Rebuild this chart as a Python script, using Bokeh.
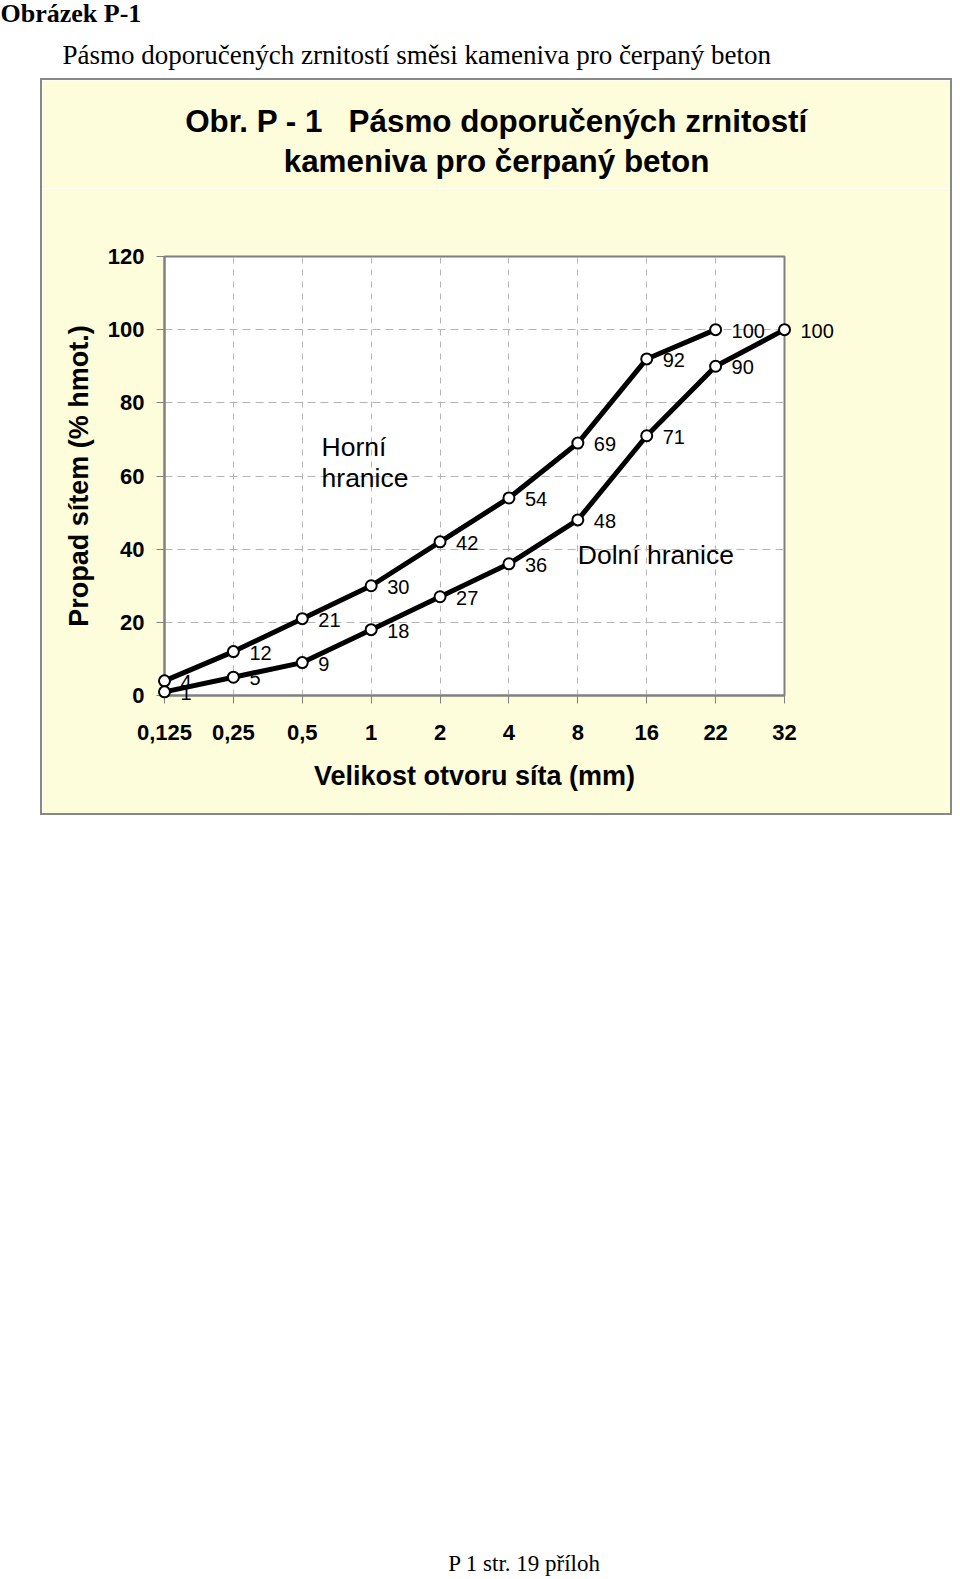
from bokeh.plotting import figure
from bokeh.layouts import column, row
from bokeh.models import Range1d, FixedTicker, Spacer
from bokeh.core.properties import value
from bokeh.embed import file_html
from bokeh.resources import INLINE

# ---------------- data ----------------
sieve_sizes = ["0,125", "0,25", "0,5", "1", "2", "4", "8", "16", "22", "32"]
upper_limit = [4, 12, 21, 30, 42, 54, 69, 92, 100]        # Horní hranice (to 22 mm)
lower_limit = [1, 5, 9, 18, 27, 36, 48, 71, 90, 100]      # Dolní hranice (to 32 mm)
y_ticks = [0, 20, 40, 60, 80, 100, 120]

x_upper = list(range(len(upper_limit)))
x_lower = list(range(len(lower_limit)))

page_heading = "Obrázek P-1"
page_caption = "Pásmo doporučených zrnitostí směsi kameniva pro čerpaný beton"
chart_title_1 = "Obr. P - 1\u00a0\u00a0\u00a0Pásmo doporučených zrnitostí"
chart_title_2 = "kameniva pro čerpaný beton"
x_label = "Velikost otvoru síta (mm)"
y_label = "Propad sítem (% hmot.)"
footer_text = "P 1 str. 19 příloh"

SANS = "Liberation Sans"
SERIF = "Liberation Serif"
YELLOW = "#FDFDDB"
GRAY = "#808080"
BOX = "#888888"
GRID = "#B4B4B4"


def no_align(f):
    if "frame_align" in f.properties():
        f.frame_align = False
    return f


def blank(w, h, fill):
    f = figure(width=w, height=h, x_range=Range1d(0, w), y_range=Range1d(h, 0),
               toolbar_location=None, output_backend="svg", min_border=0,
               x_axis_location=None, y_axis_location=None)
    f.grid.visible = False
    f.outline_line_color = None
    f.background_fill_color = fill
    f.border_fill_color = fill
    return no_align(f)


# ---------------- header ----------------
hdr = blank(952, 78, "white")
hdr.text(x=[0], y=[12.5], text=[page_heading], text_font=value(SERIF), text_font_size="26px",
         text_font_style="bold", text_color="black", text_baseline="middle")
hdr.text(x=[62], y=[54], text=[page_caption], text_font=value(SERIF), text_font_size="27px",
         text_color="black", text_baseline="middle")

# ---------------- chart title (inside the yellow box) ----------------
ttl = blank(908, 108, YELLOW)
ttl.text(x=[454, 454], y=[41, 81], text=[chart_title_1, chart_title_2], text_font=value(SANS),
         text_font_size="31.4px", text_font_style="bold", text_color="black",
         text_align="center", text_baseline="middle")

# ---------------- chart ----------------
n = len(sieve_sizes)
p = figure(width=908, height=625, x_range=Range1d(0, n - 1), y_range=Range1d(0, 120),
           toolbar_location=None, output_backend="svg",
           min_border_left=122, min_border_right=166, min_border_top=68, min_border_bottom=118)
no_align(p)
p.border_fill_color = YELLOW
p.background_fill_color = "white"
p.outline_line_color = GRAY
p.outline_line_width = 2

p.xaxis.ticker = FixedTicker(ticks=list(range(n)))
p.xaxis.major_label_overrides = {i: s for i, s in enumerate(sieve_sizes)}
p.yaxis.ticker = FixedTicker(ticks=y_ticks)
p.xaxis.axis_label = x_label
p.yaxis.axis_label = y_label
for ax in (p.xaxis[0], p.yaxis[0]):
    ax.axis_line_color = GRAY
    ax.axis_line_width = 2
    ax.major_tick_line_color = GRAY
    ax.major_tick_line_width = 1
    ax.major_tick_out = 8
    ax.major_tick_in = 0
    ax.minor_tick_line_color = None
    ax.major_label_text_font = SANS
    ax.major_label_text_font_style = "bold"
    ax.major_label_text_font_size = "22px"
    ax.major_label_text_color = "black"
    ax.axis_label_text_font = SANS
    ax.axis_label_text_font_style = "bold"
    ax.axis_label_text_color = "black"
p.xaxis.axis_label_text_font_size = "27px"
p.yaxis.axis_label_text_font_size = "27px"
p.xaxis.major_label_standoff = 21
p.yaxis.major_label_standoff = 12
p.xaxis.axis_label_standoff = 18
p.yaxis.axis_label_standoff = 11

p.xgrid.ticker = FixedTicker(ticks=list(range(1, n - 1)))
p.ygrid.ticker = FixedTicker(ticks=y_ticks[1:-1])
p.xgrid.grid_line_color = GRID
p.xgrid.grid_line_dash = "6 6"
p.ygrid.grid_line_color = GRID
p.ygrid.grid_line_dash = "8 5"

# value labels, lines and markers drawn on the overlay level so that the points and labels
# at the frame edges (0,125 mm and 32 mm) are not clipped
lbl = dict(text_font=value(SANS), text_font_size="20px", text_color="black",
           text_align="left", text_baseline="middle", x_offset=16, y_offset=1, level="overlay")
p.text(x=x_upper, y=upper_limit, text=[str(v) for v in upper_limit], **lbl)
p.text(x=x_lower, y=lower_limit, text=[str(v) for v in lower_limit], **lbl)

p.line(x_upper, upper_limit, line_color="black", line_width=5, level="overlay")
p.line(x_lower, lower_limit, line_color="black", line_width=5, level="overlay")
p.scatter(x_upper, upper_limit, marker="circle", size=11, fill_color="white",
          line_color="black", line_width=2, level="overlay")
p.scatter(x_lower, lower_limit, marker="circle", size=11, fill_color="white",
          line_color="black", line_width=2, level="overlay")

p.text(x=[2.28], y=[63.6], text=["Horní\nhranice"], text_font=value(SANS), text_font_size="26.5px",
       text_color="black", text_baseline="middle", text_align="left", text_line_height=1.04)
p.text(x=[6.0], y=[38.3], text=["Dolní hranice"], text_font=value(SANS), text_font_size="26.5px",
       text_color="black", text_baseline="middle", text_align="left")

# ---------------- yellow box with grey frame ----------------
def bar(w, h):
    return Spacer(width=w, height=h, styles={"background-color": BOX})

box = column(
    bar(912, 2),
    row(bar(2, 733), column(ttl, p), bar(2, 733)),
    bar(912, 2),
)

# ---------------- footer ----------------
ftr = blank(952, 763, "white")
ftr.text(x=[524], y=[748], text=[footer_text], text_font=value(SERIF), text_font_size="23px",
         text_color="black", text_align="center", text_baseline="middle")

layout = column(hdr, row(Spacer(width=40, height=737), box), ftr)
open("out.html", "w").write(file_html(layout, INLINE))
